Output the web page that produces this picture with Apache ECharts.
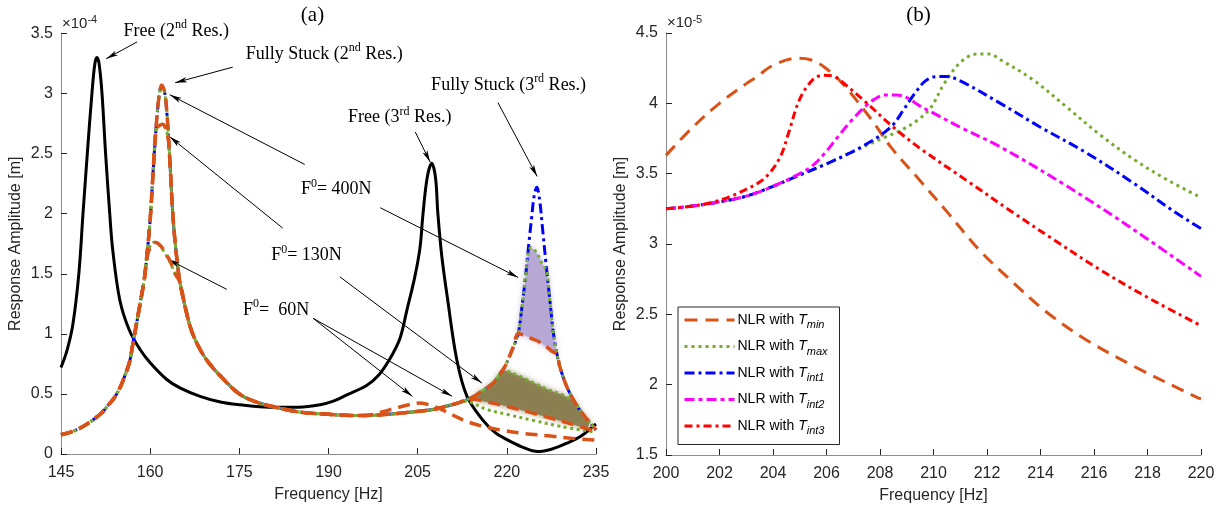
<!DOCTYPE html>
<html>
<head>
<meta charset="utf-8">
<script src="https://cdn.jsdelivr.net/npm/echarts@6/dist/echarts.min.js"></script>
<style>
  html, body { margin: 0; padding: 0; background: #fff; }
  #chart { width: 1225px; height: 512px; }
</style>
</head>
<body>
<div id="chart"></div>
<script>
// ---------------- Panel (a): amplitude in units of 1e-4 m ----------------
const freeFreq = [145,146,147,148,148.7,149.5,150.2,150.7,151.05,151.4,151.9,152.5,153.2,153.7,154.9,156.5,158.3,160,162.8,165,168.4,172,175,180,185,188.6,190.8,193,196.4,198.5,200.3,202,203.2,204.5,205.4,205.9,206.6,207.36,208,208.4,209.05,210,211.6,213.3,216,218,220,222.5,225.2,227.5,230.1,232.5,234.5,235];
const freeAmp  = [0.72,0.86,1.08,1.5,2.0,2.55,3.0,3.25,3.3,3.25,3.0,2.5,2.0,1.7,1.28,1.03,0.87,0.76,0.62,0.55,0.48,0.43,0.41,0.39,0.39,0.41,0.44,0.49,0.57,0.66,0.79,0.96,1.2,1.47,1.72,2.0,2.3,2.42,2.3,2.0,1.65,1.3,0.78,0.48,0.28,0.18,0.12,0.06,0.02,0.04,0.09,0.15,0.23,0.25];

const stuckFreq = [145,146.5,148,150,152,153,154,155,155.5,156.5,157.1,158.3,159,159.5,160,160.5,161,161.5,161.95,162.4,162.8,163.3,163.8,164.2,164.6,165,166,167,168.4,170,172,175,178,181,185,190,195,200,204,207.6,210,212.1,214.3,216,217.7,218.9,219.7,221,221.9,222.6,223.2,223.7,224.2,224.6,225.05,225.5,226.0,226.6,227.2,227.8,228.4,228.9,230,231.2,232.5,234,235];
const stuckAmp  = [0.16,0.18,0.21,0.27,0.35,0.41,0.47,0.56,0.62,0.76,0.92,1.25,1.45,1.68,1.95,2.35,2.72,2.98,3.07,3.02,2.85,2.45,2.0,1.76,1.58,1.43,1.2,1.02,0.87,0.75,0.64,0.5,0.43,0.39,0.35,0.33,0.32,0.33,0.35,0.37,0.40,0.43,0.475,0.53,0.59,0.67,0.73,0.88,1.0,1.25,1.5,1.75,1.98,2.15,2.22,2.12,1.88,1.58,1.3,1.02,0.84,0.73,0.57,0.45,0.35,0.26,0.2];

// Branches where the friction-damped responses leave the fully stuck curve
const res2F60Max  = [[159,1.45],[159.5,1.65],[160.2,1.75],[160.9,1.765],[161.7,1.73],[162.5,1.67],[163.4,1.59],[164.2,1.5],[165,1.43]];
const res2F60Min  = [[159,1.45],[159.6,1.66],[160.3,1.74],[161,1.76],[161.8,1.73],[162.6,1.67],[163.4,1.6],[164.2,1.5],[165,1.43]];
const res2F130    = [[161,2.7],[161.6,2.735],[162.1,2.745],[162.6,2.71],[163.1,2.6]];
const res3F400Max = [[223.2,1.5],[223.6,1.68],[224.1,1.72],[224.8,1.69],[225.5,1.63],[226.1,1.57],[226.7,1.53]];
const res3F400Min = [[221.9,1.0],[222.8,0.99],[224,0.965],[225.2,0.94],[226.6,0.895],[227.6,0.855],[228.4,0.83]];
const res3F130Max = [[218.9,0.67],[219.5,0.7],[220.6,0.68],[222.5,0.64],[224.4,0.595],[227,0.535],[229.5,0.49],[230.6,0.46],[231.2,0.45]];
const res3F130Min = [[213.2,0.455],[214.5,0.455],[216,0.44],[218.9,0.41],[221.7,0.375],[224.4,0.34],[227.3,0.3],[230.5,0.255],[233.5,0.21],[235,0.185]];
const res3F60Max  = [[212.1,0.43],[213.2,0.44],[214.2,0.425],[216.7,0.37],[220,0.33],[224.4,0.28],[229,0.23],[235,0.18]];
const res3F60Min  = [[197,0.325],[199,0.35],[201.5,0.385],[203.5,0.41],[205.4,0.425],[207.5,0.4],[209.9,0.35],[211.5,0.31],[213.3,0.27],[216,0.23],[218.9,0.2],[223,0.17],[227.3,0.15],[231,0.13],[235,0.115]];

const xTicksA = [145, 235, 15];
const yTicksA = [0, 3.5, 0.5];

// ---------------- Panel (b): amplitude in units of 1e-5 m ----------------
const bMinFreq  = [200,201,202,203,203.4,204,204.9,205.4,205.9,206.6,207.7,208.4,209.5,210.5,211.7,212.9,214.2,215.7,217.5,219.85,220];
const bMinAmp   = [3.63,3.83,4.0,4.14,4.19,4.27,4.32,4.31,4.26,4.14,3.88,3.69,3.45,3.23,2.96,2.74,2.52,2.32,2.13,1.91,1.90];
const bMaxFreq  = [200,201,202,203,204,205,206,206.8,207.6,208.2,208.8,209.4,209.9,210.4,211,211.6,212.1,212.5,213.7,215,216.2,217.5,218.7,220];
const bMaxAmp   = [3.25,3.27,3.3,3.34,3.41,3.49,3.57,3.64,3.71,3.76,3.81,3.88,3.97,4.14,4.29,4.35,4.35,4.31,4.17,3.97,3.78,3.6,3.46,3.33];
const bInt1Freq = [200,201,202,203,204,205,206,206.8,207.4,208,208.5,208.9,209.3,209.7,210.1,210.5,211,212.5,214,215.7,217.5,219,220];
const bInt1Amp  = [3.25,3.27,3.3,3.34,3.41,3.49,3.57,3.64,3.7,3.77,3.85,3.96,4.07,4.16,4.19,4.19,4.16,4.0,3.83,3.65,3.43,3.23,3.11];
const bInt2Freq = [200,201,202,203,204,205,205.5,206,206.5,206.9,207.4,207.8,208.2,208.6,209,209.5,210,211,212.5,215,217.5,220];
const bInt2Amp  = [3.25,3.27,3.3,3.34,3.41,3.5,3.56,3.66,3.78,3.87,3.97,4.03,4.06,4.06,4.04,3.98,3.93,3.83,3.69,3.41,3.1,2.77];
const bInt3Freq = [200,201,201.6,202.3,202.9,203.5,203.9,204.3,204.6,205,205.5,205.9,206.3,206.6,207.4,208.5,209.5,211.25,213,214.5,216.2,218.1,220];
const bInt3Amp  = [3.25,3.27,3.29,3.33,3.38,3.44,3.51,3.63,3.8,4.03,4.17,4.2,4.19,4.15,4.02,3.83,3.68,3.45,3.22,3.03,2.82,2.61,2.42];

const xTicksB = [200, 220, 2];
const yTicksB = [1.5, 4.5, 0.5];

// ---------------- helpers ----------------
const SERIF = '"Liberation Serif","Times New Roman",serif';
const SANS = '"Liberation Sans",Arial,Helvetica,sans-serif';
const INK = '#262626';

const pairs = (fs, vs) => fs.map((f, i) => [f, vs[i]]);
// replace the part of a base curve covered by each branch with that branch
function branch(base, ...segs) {
  let out = base.slice();
  segs.forEach(seg => {
    const a = seg[0][0], b = seg[seg.length - 1][0];
    out = out.filter(p => p[0] < a || p[0] > b).concat(seg);
  });
  return out.sort((p, q) => p[0] - q[0]);
}
const within = (c, a, b) => c.filter(p => p[0] >= a && p[0] <= b);

const free = pairs(freeFreq, freeAmp);
const stuck = pairs(stuckFreq, stuckAmp);
const f400Max = branch(stuck, res3F400Max);
const f400Min = branch(stuck, res3F400Min);
const f130Max = branch(stuck, res2F130, res3F130Max);
const f130Min = branch(stuck, res2F130, res3F130Min);
const f60Max  = branch(stuck, res2F60Max, res3F60Max);
const f60Min  = branch(stuck, res2F60Min, res3F60Min);

// hysteresis bands between the max/min preload responses
const band400 = within(f400Max, 221.9, 228.4).concat(within(f400Min, 221.9, 228.4).reverse());
const band130 = within(f130Max, 214.3, 234).concat(within(f130Min, 214.3, 234).reverse());

const ORANGE = '#D95319', GREEN = '#77AC30', BLUE = '#0000FF', MAGENTA = '#FF00FF', RED = '#FF0000';
const styA = {
  orange: { color: ORANGE, width: 3.5, type: [12, 7] },
  green:  { color: GREEN, width: 3, type: [3, 3.5] },
  blue:   { color: BLUE, width: 3, type: [10, 4, 3, 4] }
};

function lineSeries(name, data, ls, axis, z) {
  return {
    name, type: 'line', data, xAxisIndex: axis, yAxisIndex: axis,
    showSymbol: false, symbol: 'none', smooth: 0.35, z,
    lineStyle: Object.assign({ cap: 'butt', join: 'round' }, ls),
    itemStyle: { color: ls.color },
    emphasis: { disabled: true }, silent: true, animation: false
  };
}
function bandSeries(poly, color, blur) {
  return {
    type: 'custom', xAxisIndex: 0, yAxisIndex: 0, z: 1, silent: true, clip: true,
    data: poly, encode: { x: 0, y: 1 },
    renderItem: (params, api) => {
      if (params.dataIndex !== 0) return null;
      return {
        type: 'polygon',
        shape: { points: poly.map(p => api.coord(p)) },
        style: { fill: color, shadowBlur: blur, shadowColor: color }
      };
    }
  };
}

// annotation arrows of panel (a): [tail, head] in data coordinates
const arrowsA = [
  [[157.8, 3.43], [152.6, 3.29]],
  [[173.9, 3.22], [164.2, 3.09]],
  [[186.0, 2.41], [163.3, 2.99]],
  [[182.3, 1.88], [163.3, 2.64]],
  [[172.9, 1.37], [163.0, 1.62]],
  [[198.7, 2.05], [221.9, 1.47]],
  [[191.9, 1.475], [215.8, 0.59]],
  [[187.4, 1.13], [204.1, 0.48]],
  [[187.4, 1.13], [210.8, 0.48]],
  [[204.6, 2.68], [207.1, 2.43]],
  [[218.5, 2.925], [225.1, 2.31]]
];

const axisCommon = {
  type: 'value',
  axisLine: { onZero: false, lineStyle: { color: '#8c8c8c', width: 1 } },
  axisTick: { inside: true, length: 6, lineStyle: { color: INK, width: 1 } },
  splitLine: { show: false },
  nameLocation: 'middle',
  nameTextStyle: { fontFamily: SANS, fontSize: 16, color: INK }
};
function xAx(grid, t) {
  return Object.assign({}, axisCommon, {
    gridIndex: grid, min: t[0], max: t[1], interval: t[2],
    name: 'Frequency [Hz]', nameGap: 33,
    axisLabel: { fontFamily: SANS, fontSize: 16, color: INK, margin: 11, showMinLabel: true, showMaxLabel: true }
  });
}
function yAx(grid, t) {
  return Object.assign({}, axisCommon, {
    gridIndex: grid, min: t[0], max: t[1], interval: t[2],
    name: 'Response Amplitude [m]', nameGap: 37,
    axisLabel: { fontFamily: SANS, fontSize: 16, color: INK, margin: 8, showMinLabel: true, showMaxLabel: true }
  });
}

const namesB = ['NLR with T_min', 'NLR with T_max', 'NLR with T_int1', 'NLR with T_int2', 'NLR with T_int3'];

const freeSeries = lineSeries('Free', free, { color: '#000', width: 3, type: 'solid' }, 0, 2);
freeSeries.markLine = {
  silent: true, animation: false,
  symbol: ['none', 'arrow'], symbolSize: [4, 12],
  label: { show: false },
  lineStyle: { color: '#000', width: 1, type: 'solid' },
  emphasis: { disabled: true },
  data: arrowsA.map(a => [{ coord: a[0] }, { coord: a[1] }])
};

const chart = echarts.init(document.getElementById('chart'), null, { renderer: 'canvas' });
chart.setOption({
  animation: false,
  backgroundColor: '#fff',
  grid: [
    { left: 61, right: 629, top: 33.5, bottom: 58 },
    { left: 666, right: 24, top: 33, bottom: 57 }
  ],
  xAxis: [xAx(0, xTicksA), xAx(1, xTicksB)],
  yAxis: [yAx(0, yTicksA), yAx(1, yTicksB)],
  legend: {
    data: namesB, orient: 'vertical', left: 678, top: 307,
    padding: [6, 12, 8, 5], itemGap: 9, itemWidth: 50, itemHeight: 14,
    backgroundColor: '#fff', borderColor: INK, borderWidth: 1, borderRadius: 0,
    selectedMode: false,
    lineStyle: { width: 3 },
    itemStyle: { color: 'rgba(0,0,0,0)', borderWidth: 0, opacity: 0 },
    formatter: name => {
      const sub = name.split('_')[1];
      return '{n|NLR with }{t|T}{s|' + sub + '}';
    },
    textStyle: {
      fontFamily: SANS, fontSize: 14, color: '#000', padding: [0, 0, 0, -2],
      rich: {
        n: { fontFamily: SANS, fontSize: 14, color: '#000', lineHeight: 21 },
        t: { fontFamily: SANS, fontSize: 14, color: '#000', fontStyle: 'italic', lineHeight: 21 },
        s: { fontFamily: SANS, fontSize: 11, color: '#000', fontStyle: 'italic', verticalAlign: 'bottom', lineHeight: 7 }
      }
    }
  },
  series: [
    bandSeries(band400, 'rgba(182,166,212,0.95)', 6),
    bandSeries(band130, 'rgba(138,126,80,0.95)', 6),
    freeSeries,
    lineSeries('Fully stuck', stuck, styA.blue, 0, 3),
    lineSeries('400N Tmax', f400Max, styA.green, 0, 4),
    lineSeries('130N Tmax', f130Max, styA.green, 0, 4),
    lineSeries('60N Tmax', f60Max, styA.green, 0, 4),
    lineSeries('400N Tmin', f400Min, styA.orange, 0, 5),
    lineSeries('130N Tmin', f130Min, styA.orange, 0, 5),
    lineSeries('60N Tmin', f60Min, styA.orange, 0, 5),

    lineSeries(namesB[0], pairs(bMinFreq, bMinAmp), { color: ORANGE, width: 3, type: [13, 8] }, 1, 3),
    lineSeries(namesB[1], pairs(bMaxFreq, bMaxAmp), { color: GREEN, width: 3, type: [3, 4] }, 1, 3),
    lineSeries(namesB[2], pairs(bInt1Freq, bInt1Amp), { color: BLUE, width: 3, type: [10, 4, 3, 4] }, 1, 3),
    lineSeries(namesB[3], pairs(bInt2Freq, bInt2Amp), { color: MAGENTA, width: 3, type: [10, 4, 4, 4] }, 1, 3),
    lineSeries(namesB[4], pairs(bInt3Freq, bInt3Amp), { color: RED, width: 3, type: [8, 4, 3, 4] }, 1, 3)
  ]
});

// ---------------- text annotations ----------------
const richSerif = {
  n: { fontFamily: SERIF, fontSize: 18, lineHeight: 24, fill: '#000', color: '#000' },
  s: { fontFamily: SERIF, fontSize: 12, lineHeight: 10, verticalAlign: 'top', fill: '#000', color: '#000' }
};
const notesA = [
  { text: '{n|Free (2}{s|nd}{n| Res.)}', at: [164.4, 3.52] },
  { text: '{n|Fully Stuck (2}{s|nd}{n| Res.)}', at: [189.3, 3.33] },
  { text: '{n|Fully Stuck (3}{s|rd}{n| Res.)}', at: [220.3, 3.07] },
  { text: '{n|Free (3}{s|rd}{n| Res.)}', at: [202.0, 2.80] },
  { text: '{n|F}{s|0}{n|= 400N}', at: [191.3, 2.20] },
  { text: '{n|F}{s|0}{n|= 130N}', at: [186.3, 1.65] },
  { text: '{n|F}{s|0}{n|=  60N}', at: [181.2, 1.20] }
];

const graphics = notesA.map(a => {
  const p = chart.convertToPixel({ gridIndex: 0 }, a.at);
  return {
    type: 'text', x: p[0], y: p[1], silent: true, z: 100,
    style: { text: a.text, rich: richSerif, align: 'center', verticalAlign: 'middle', fill: '#000' }
  };
});

// panel titles and exponent labels
const topA = chart.convertToPixel({ gridIndex: 0 }, [xTicksA[0], yTicksA[1]]);
const topB = chart.convertToPixel({ gridIndex: 1 }, [xTicksB[0], yTicksB[1]]);
const midA = chart.convertToPixel({ gridIndex: 0 }, [(xTicksA[0] + xTicksA[1]) / 2, yTicksA[1]]);
const midB = chart.convertToPixel({ gridIndex: 1 }, [(xTicksB[0] + xTicksB[1]) / 2, yTicksB[1]]);
const richExp = {
  m: { fontFamily: SANS, fontSize: 15, lineHeight: 18, fill: INK, color: INK },
  e: { fontFamily: SANS, fontSize: 11, lineHeight: 8, verticalAlign: 'top', fill: INK, color: INK }
};
[[topA, '-4'], [topB, '-5']].forEach(([p, e]) => {
  graphics.push({
    type: 'text', x: p[0] + 1, y: p[1] - 10, silent: true,
    style: { text: '{m|\u00d710}{e|' + e + '}', rich: richExp, align: 'left', verticalAlign: 'middle' }
  });
});
[[midA, '(a)', -16], [midB, '(b)', -15]].forEach(([p, t, dx]) => {
  graphics.push({
    type: 'text', x: p[0] + dx, y: p[1] - 18, silent: true,
    style: { text: t, font: '21px ' + SERIF, fill: '#000', align: 'center', verticalAlign: 'middle' }
  });
});

chart.setOption({ graphic: graphics });
</script>
</body>
</html>
